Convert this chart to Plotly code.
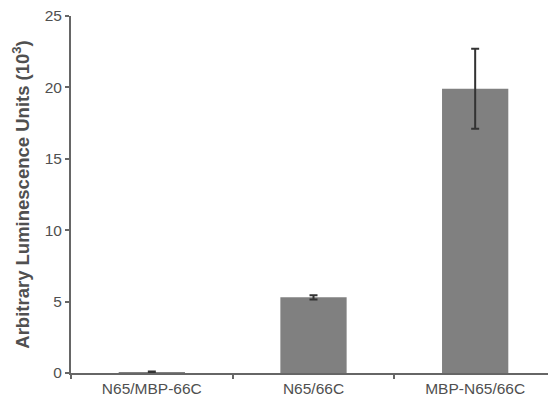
import plotly.graph_objects as go

categories = ["N65/MBP-66C", "N65/66C", "MBP-N65/66C"]
values = [0.05, 5.3, 19.9]
errors = [0.05, 0.15, 2.8]
y_ticks = [0, 5, 10, 15, 20, 25]

fig = go.Figure()
fig.add_trace(go.Bar(
    x=categories, y=values,
    marker=dict(color="#808080", line=dict(width=0)),
    width=0.41,
    error_y=dict(type="data", array=errors, visible=True, color="#333333", thickness=2, width=4),
))

fig.update_layout(
    width=548, height=394,
    margin=dict(l=63, r=0, t=8, b=29, autoexpand=False),
    paper_bgcolor="white", plot_bgcolor="white",
    showlegend=False,
    font=dict(family="Liberation Sans, Arial, sans-serif", color="#505050", size=15),
)
fig.update_xaxes(
    type="category", range=[-0.5, 2.5],
    showline=True, linecolor="#666666", linewidth=2,
    ticks="outside", tickson="boundaries", ticklen=4, tickwidth=2, tickcolor="#666666",
    showgrid=False, tickfont=dict(size=15.5, color="#505050"),
    ticklabeloverflow="allow",
)
fig.update_yaxes(
    range=[0, 25], tickvals=y_ticks,
    showline=True, linecolor="#666666", linewidth=2,
    ticks="outside", ticklen=4, tickwidth=2, tickcolor="#666666",
    showgrid=False, zeroline=False,
    tickfont=dict(size=15.5, color="#505050"),
    ticklabeloverflow="allow",
    title=dict(text="<b>Arbitrary Luminescence Units (10<sup>3</sup>)</b>",
               font=dict(size=18.5, color="#505050"), standoff=10),
)

fig.write_html("out.html")
